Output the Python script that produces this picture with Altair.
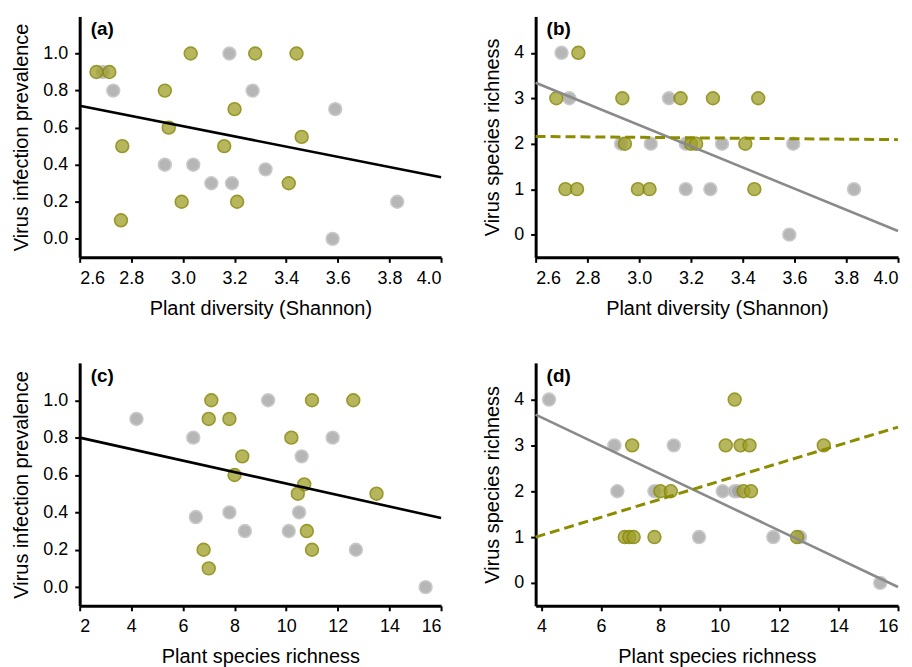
import altair as alt
import pandas as pd

# ---------------- data ----------------
# Panel (a): plant diversity (Shannon) vs virus infection prevalence
a_gray_x = [2.69, 2.73, 3.18, 3.27, 3.59, 2.93, 3.04, 3.11, 3.19, 3.32, 3.58, 3.83]
a_gray_y = [0.9, 0.8, 1.0, 0.8, 0.7, 0.4, 0.4, 0.3, 0.3, 0.375, 0.0, 0.2]
a_green_x = [2.665, 2.715, 3.03, 3.28, 3.44, 2.93, 3.20, 2.945, 2.765, 3.16, 3.46, 3.41, 2.995, 3.21, 2.76]
a_green_y = [0.9, 0.9, 1.0, 1.0, 1.0, 0.8, 0.7, 0.6, 0.5, 0.5, 0.55, 0.3, 0.2, 0.2, 0.1]
a_fit_x = [2.6, 4.0]
a_fit_y = [0.718, 0.332]

# Panel (b): plant diversity (Shannon) vs virus species richness
b_gray_x = [2.70, 2.73, 3.115, 2.93, 3.045, 3.18, 3.32, 3.595, 3.18, 3.275, 3.83, 3.58]
b_gray_y = [4, 3, 3, 2, 2, 2, 2, 2, 1, 1, 1, 0]
b_green_x = [2.765, 2.68, 2.935, 3.16, 3.285, 3.46, 2.945, 3.20, 3.22, 3.41, 2.715, 2.76, 2.995, 3.04, 3.445]
b_green_y = [4, 3, 3, 3, 3, 3, 2, 2, 2, 2, 1, 1, 1, 1, 1]
b_fit_x = [2.6, 4.0]
b_gray_fit_y = [3.34, 0.08]
b_green_fit_y = [2.16, 2.09]

# Panel (c): plant species richness vs virus infection prevalence
c_gray_x = [4.2, 6.4, 6.5, 7.8, 8.4, 9.3, 10.1, 10.5, 10.6, 11.8, 12.7, 15.4]
c_gray_y = [0.9, 0.8, 0.375, 0.4, 0.3, 1.0, 0.3, 0.4, 0.7, 0.8, 0.2, 0.0]
c_green_x = [7.1, 7.0, 7.8, 6.8, 7.0, 8.3, 8.0, 10.2, 11.0, 12.6, 10.7, 10.45, 13.5, 10.8, 11.0]
c_green_y = [1.0, 0.9, 0.9, 0.2, 0.1, 0.7, 0.6, 0.8, 1.0, 1.0, 0.55, 0.5, 0.5, 0.3, 0.2]
c_fit_x = [2, 16]
c_fit_y = [0.80, 0.37]

# Panel (d): plant species richness vs virus species richness
d_gray_x = [4.25, 6.45, 8.45, 6.55, 7.8, 10.1, 10.5, 10.6, 9.3, 11.8, 12.7, 15.4]
d_gray_y = [4, 3, 3, 2, 2, 2, 2, 2, 1, 1, 1, 0]
d_green_x = [10.5, 7.05, 10.2, 10.7, 11.0, 13.5, 8.0, 8.35, 10.8, 11.05, 6.8, 6.95, 7.1, 7.8, 12.6]
d_green_y = [4, 3, 3, 3, 3, 3, 2, 2, 2, 2, 1, 1, 1, 1, 1]
d_fit_x = [3.8, 16]
d_gray_fit_y = [3.67, -0.09]
d_green_fit_y = [1.0, 3.40]

shannon_ticks = [2.6, 2.8, 3.0, 3.2, 3.4, 3.6, 3.8, 4.0]
prev_ticks = [0.0, 0.2, 0.4, 0.6, 0.8, 1.0]
rich_ticks = [0, 1, 2, 3, 4]
c_x_ticks = [2, 4, 6, 8, 10, 12, 14, 16]
d_x_ticks = [4, 6, 8, 10, 12, 14, 16]

GREEN_FILL = "#a1a12c"
GREEN_STROKE = "#8a8a10"
GRAY_FILL = "#a0a0a0"
GRAY_STROKE = "#c2c2c2"
GRAY_LINE = "#8a8a8a"
GREEN_LINE = "#8c8c00"
FONT = "Liberation Sans"


def panel(gx, gy, nx, ny, fits, xdom, ydom, xticks, yticks, xfmt, yfmt,
          xtitle, ytitle, label, w, h):
    xs = alt.Scale(domain=xdom, nice=False, zero=False)
    ys = alt.Scale(domain=ydom, nice=False, zero=False)
    xax = alt.Axis(values=xticks, format=xfmt, title=xtitle)
    yax = alt.Axis(values=yticks, format=yfmt, title=ytitle)

    def pts(px, py, fill, stroke):
        df = pd.DataFrame({"x": px, "y": py})
        return alt.Chart(df).mark_point(
            filled=True, shape="circle", size=165, fill=fill, stroke=stroke,
            strokeWidth=1.6, opacity=0.88, fillOpacity=0.88
        ).encode(x=alt.X("x:Q", scale=xs, axis=xax), y=alt.Y("y:Q", scale=ys, axis=yax))

    layers = [pts(gx, gy, GRAY_FILL, GRAY_STROKE), pts(nx, ny, GREEN_FILL, GREEN_STROKE)]
    for fx, fy, col, dash, sw in fits:
        df = pd.DataFrame({"x": fx, "y": fy})
        kw = dict(color=col, strokeWidth=sw)
        if dash:
            kw["strokeDash"] = dash
        layers.append(
            alt.Chart(df).mark_line(**kw).encode(
                x=alt.X("x:Q", scale=xs, axis=xax), y=alt.Y("y:Q", scale=ys, axis=yax)
            )
        )
    lab = alt.Chart(pd.DataFrame({"t": [label]})).mark_text(
        align="left", baseline="top", font=FONT, fontSize=19, fontWeight="bold", color="black"
    ).encode(text="t:N", x=alt.value(11), y=alt.value(4))
    layers.append(lab)
    return alt.layer(*layers).properties(width=w, height=h)


pa = panel(a_gray_x, a_gray_y, a_green_x, a_green_y,
           [(a_fit_x, a_fit_y, "black", None, 2.6)],
           [2.6, 4.0], [-0.1, 1.2], shannon_ticks, prev_ticks, ".1f", ".1f",
           "Plant diversity (Shannon)", "Virus infection prevalence", "(a)", 363, 242)
pb = panel(b_gray_x, b_gray_y, b_green_x, b_green_y,
           [(b_fit_x, b_gray_fit_y, GRAY_LINE, None, 2.6),
            (b_fit_x, b_green_fit_y, GREEN_LINE, [10, 5], 3)],
           [2.6, 4.0], [-0.5, 4.8], shannon_ticks, rich_ticks, ".1f", "d",
           "Plant diversity (Shannon)", "Virus species richness", "(b)", 364, 242)
pc = panel(c_gray_x, c_gray_y, c_green_x, c_green_y,
           [(c_fit_x, c_fit_y, "black", None, 2.6)],
           [2, 16], [-0.1, 1.2], c_x_ticks, prev_ticks, "d", ".1f",
           "Plant species richness", "Virus infection prevalence", "(c)", 363, 244)
pd_ = panel(d_gray_x, d_gray_y, d_green_x, d_green_y,
            [(d_fit_x, d_gray_fit_y, GRAY_LINE, None, 2.6),
             (d_fit_x, d_green_fit_y, GREEN_LINE, [10, 5], 3)],
            [3.8, 16], [-0.5, 4.8], d_x_ticks, rich_ticks, "d", "d",
            "Plant species richness", "Virus species richness", "(d)", 364, 244)

chart = alt.concat(
    pa, pb, pc, pd_, columns=2, spacing={"row": 106, "column": 95}, bounds="flush"
).properties(
    padding={"left": 3, "top": 7, "right": 0, "bottom": 0}
).configure_view(stroke=None).configure_axis(
    grid=False,
    domainColor="black", domainWidth=3,
    tickColor="black", tickWidth=2, tickSize=5,
    labelFont=FONT, labelFontSize=18, labelColor="black", labelPadding=7,
    titleFont=FONT, titleFontSize=20, titleFontWeight="normal", titleColor="black",
    titlePadding=11,
)

chart.save("out.html", embed_options={"renderer": "svg", "actions": False})
